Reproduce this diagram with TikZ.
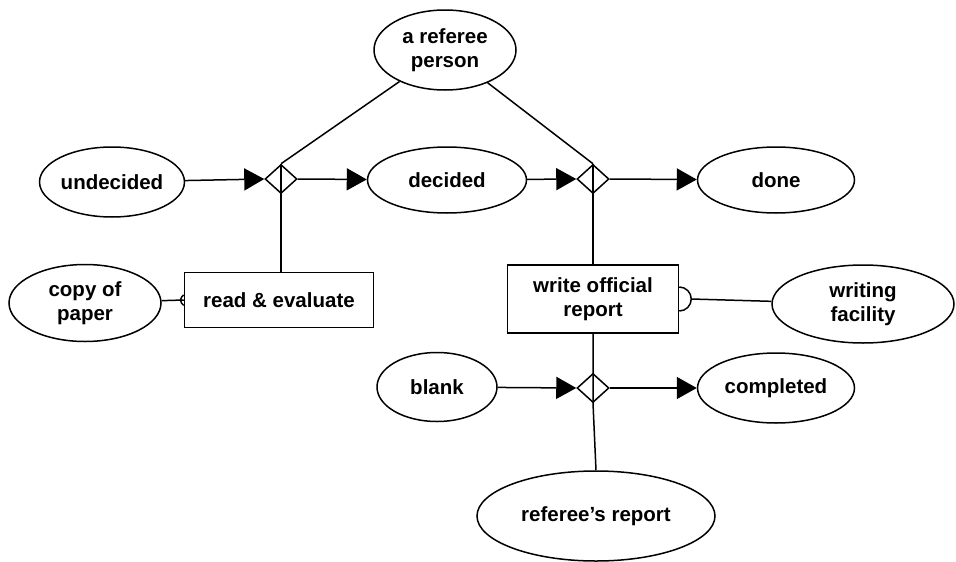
\documentclass[tikz,border=0pt]{standalone}
\usepackage{fontspec}
\setmainfont{Liberation Sans}
\usetikzlibrary{shapes.geometric,arrows.meta,calc}

\tikzset{
  place/.style={draw,ellipse,line width=1.5pt,inner sep=0pt,align=center},
  act/.style={draw,rectangle,line width=1.5pt,inner sep=0pt,align=center},
  junc/.style={draw,diamond,line width=1.5pt,inner sep=0pt,minimum width=32pt,minimum height=29pt},
  flow/.style={line width=1.5pt,-{Triangle[length=20pt,width=22pt]}},
  link/.style={line width=1.5pt}
}

\begin{document}
\begin{tikzpicture}[x=1pt,y=-1pt,font=\fontsize{20.5}{23.5}\selectfont\bfseries]
\useasboundingbox (0,0) rectangle (956,562);
% Row 1: the referee and the decision step
\node[place,minimum width=142pt,minimum height=80pt] (ref) at (445,50) {a referee\\person};
\node[place,minimum width=143pt,minimum height=70pt] (undec) at (112,182) {undecided};
\node[junc] (j1) at (281,179) {};
\node[place,minimum width=159pt,minimum height=66pt] (dec) at (447,180) {decided};
\node[junc] (j2) at (593,179) {};
\node[place,minimum width=157pt,minimum height=66pt] (done) at (776,180) {done};
% Row 2: activities and their resources
\node[place,minimum width=152pt,minimum height=77pt] (copy) at (85,303) {copy of\\paper};
\node[act,minimum width=189pt,minimum height=55pt] (read) at (279,300) {read \& evaluate};
\node[act,minimum width=171pt,minimum height=68pt] (write) at (593,299) {write official\\report};
\node[place,minimum width=182pt,minimum height=78pt] (fac) at (863,304) {writing\\facility};
% Row 3: the report form
\node[place,minimum width=120pt,minimum height=69pt] (blank) at (437,387) {blank};
\node[junc] (j3) at (593,388) {};
\node[place,minimum width=157pt,minimum height=70pt] (compl) at (776,388) {completed};
\node[place,minimum width=238pt,minimum height=90pt] (report) at (596,516) {referee's report};

% state changes
\draw[flow] (undec) -- (j1.west);
\draw[flow] (j1.east) -- (dec);
\draw[flow] (dec) -- (j2.west);
\draw[flow] (j2.east) -- (done);
\draw[flow] (blank) -- (j3.west);
\draw[flow] (j3.east) -- (compl);
% participants
\draw[link] (ref) -- (j1.north);
\draw[link] (ref) -- (j2.north);
\draw[link] (j1.north) -- (j1.north |- read.north);
\draw[link] (j2.north) -- (write.north);
\draw[link] (write.south) -- (j3.north) -- (j3.south) -- (report.north);
% resources, with the small cups on the boxes
\draw[link] (copy) -- (read.west);
\draw[link] ([yshift=5pt]read.west) arc[start angle=120,end angle=240,radius=6pt];
\coordinate (wcup) at ($(write.east)+(12,0)$);
\draw[link] ([yshift=12pt]write.east) arc[start angle=90,end angle=-90,radius=12pt];
\draw[link] (fac) -- (wcup);
\end{tikzpicture}
\end{document}
